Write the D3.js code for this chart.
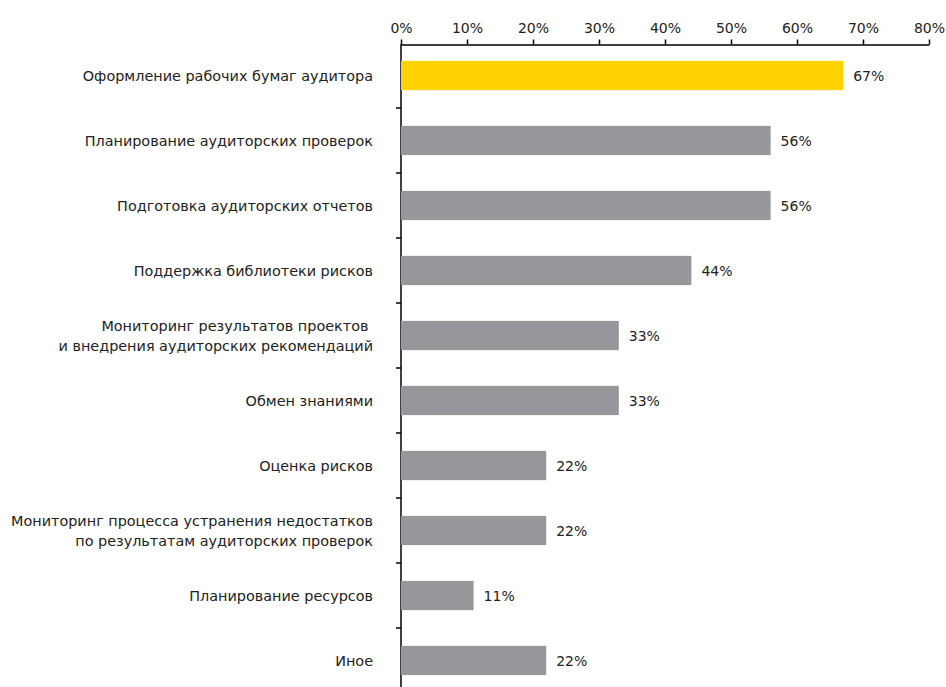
<!DOCTYPE html>
<html>
<head>
<meta charset="utf-8">
<script src="https://cdn.jsdelivr.net/npm/d3@7"></script>
<style>
  html, body { margin: 0; padding: 0; background: #fff; }
  svg { display: block; }
  text { font-family: "DejaVu Sans", sans-serif; fill: #222; }
</style>
</head>
<body>
<svg id="chart" width="946" height="687"></svg>
<script>
// Category labels (each entry is a list of lines)
const categories = [
  ["Оформление рабочих бумаг аудитора"],
  ["Планирование аудиторских проверок"],
  ["Подготовка аудиторских отчетов"],
  ["Поддержка библиотеки рисков"],
  ["Мониторинг результатов проектов ", "и внедрения аудиторских рекомендаций"],
  ["Обмен знаниями"],
  ["Оценка рисков"],
  ["Мониторинг процесса устранения недостатков", "по результатам аудиторских проверок"],
  ["Планирование ресурсов"],
  ["Иное"]
];
// Share of respondents, %
const values = [67, 56, 56, 44, 33, 33, 22, 22, 11, 22];
// Axis ticks, %
const xTicks = [0, 10, 20, 30, 40, 50, 60, 70, 80];

const highlightColor = "#FFD200";
const barColor = "#96979a";
const fontSize = 14;
const labelFontSize = 14.4;

const svg = d3.select("#chart");

const x = d3.scaleLinear().domain([0, 80]).range([401, 929]);
const y = d3.scaleBand()
  .domain(d3.range(categories.length))
  .range([43, 693])
  .paddingInner(0.55)
  .paddingOuter(0.275);

// Top axis
const xAxis = d3.axisTop(x)
  .tickValues(xTicks)
  .tickFormat(d => d + "%")
  .tickSize(5)
  .tickSizeOuter(0)
  .tickPadding(7);

const gx = svg.append("g")
  .attr("transform", "translate(0,44.5)")
  .call(xAxis);
gx.select(".domain").attr("stroke", "#000").attr("stroke-width", 1.5);
gx.selectAll(".tick line").attr("stroke", "#000").attr("stroke-width", 1.5);
gx.selectAll(".tick text")
  .attr("font-family", "DejaVu Sans, sans-serif")
  .attr("font-size", fontSize)
  .attr("fill", "#222");

// Vertical axis line with ticks between categories
svg.append("line")
  .attr("x1", x(0)).attr("x2", x(0))
  .attr("y1", 44).attr("y2", 700)
  .attr("stroke", "#000").attr("stroke-width", 1.5);

const step = y.step();
const boundaries = d3.range(1, categories.length + 1).map(i => y(i - 1) + y.bandwidth() / 2 + step / 2);
svg.append("g").selectAll("line")
  .data(boundaries)
  .join("line")
  .attr("x1", x(0) - 5).attr("x2", x(0))
  .attr("y1", d => d).attr("y2", d => d)
  .attr("stroke", "#000").attr("stroke-width", 1.5);

// Bars
svg.append("g").selectAll("rect")
  .data(values)
  .join("rect")
  .attr("x", x(0))
  .attr("y", (d, i) => y(i))
  .attr("width", d => x(d) - x(0))
  .attr("height", y.bandwidth())
  .attr("fill", (d, i) => i === 0 ? highlightColor : barColor);

// Value labels
svg.append("g").selectAll("text")
  .data(values)
  .join("text")
  .attr("x", d => x(d) + 10)
  .attr("y", (d, i) => y(i) + y.bandwidth() / 2)
  .attr("dy", "0.36em")
  .attr("font-size", fontSize)
  .text(d => d + "%");

// Category labels
const lineHeight = 20;
const labels = svg.append("g").selectAll("text")
  .data(categories)
  .join("text")
  .attr("text-anchor", "end")
  .attr("font-size", labelFontSize)
  .attr("xml:space", "preserve")
  .style("white-space", "pre")
  .attr("transform", (d, i) => `translate(373,${y(i) + y.bandwidth() / 2})`);

labels.selectAll("tspan")
  .data(d => d.map((line, j) => ({ line, j, n: d.length })))
  .join("tspan")
  .attr("x", 0)
  .attr("y", d => (d.j - (d.n - 1) / 2) * lineHeight)
  .attr("dy", "0.36em")
  .text(d => d.line);
</script>
</body>
</html>
